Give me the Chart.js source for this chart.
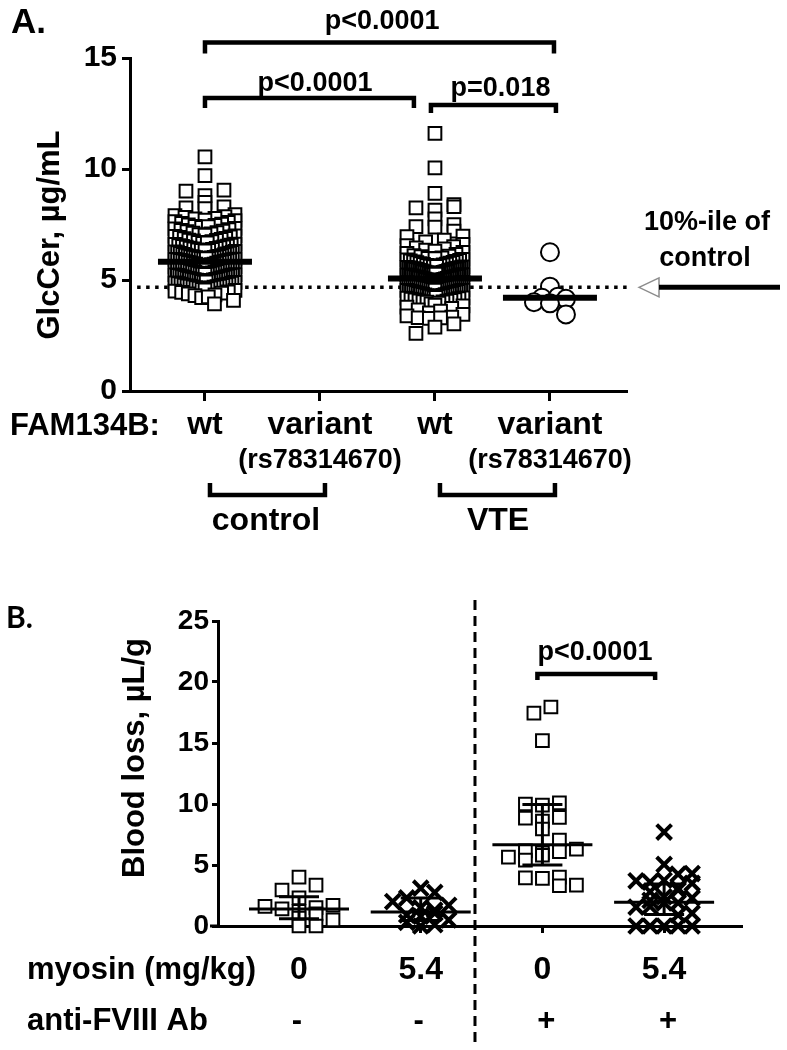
<!DOCTYPE html>
<html>
<head>
<meta charset="utf-8">
<script src="https://cdn.jsdelivr.net/npm/chart.js@4.4.1/dist/chart.umd.min.js"></script>
<style>
html,body{margin:0;padding:0;background:#fff;}
#wrapA{position:absolute;left:0;top:0;width:787px;height:600px;}
#wrapB{position:absolute;left:0;top:600px;width:787px;height:450px;}
canvas{display:block;}
</style>
</head>
<body>
<div id="wrapA"><canvas id="cA" width="787" height="600"></canvas></div>
<div id="wrapB"><canvas id="cB" width="787" height="450"></canvas></div>
<script>
// ================= DATA : panel A =================
const groupsA = ['wt', 'variant', 'wt', 'variant'];
const subLabelA = '(rs78314670)';
const cohortsA = ['control', 'VTE'];
const yTicksA = [0, 5, 10, 15];
const controlWt = [
  10.55, 9.7, 9.05, 9.0, 8.8, 8.5, 8.3, 8.25, 8.22,
  7.95, 7.9, 7.85, 7.82, 7.78, 7.75, 7.7, 7.68, 7.63, 7.6, 7.55, 7.52,
  7.48, 7.46, 7.42, 7.4, 7.37, 7.33, 7.3, 7.27, 7.24, 7.2, 7.18, 7.14, 7.11, 7.08, 7.05, 7.02,
  6.99, 6.97, 6.94, 6.92, 6.88, 6.86, 6.83, 6.8, 6.78, 6.76, 6.73, 6.7, 6.67, 6.65, 6.62, 6.6, 6.57, 6.55, 6.53, 6.51,
  6.49, 6.48, 6.46, 6.44, 6.42, 6.4, 6.38, 6.36, 6.34, 6.33, 6.31, 6.29, 6.27, 6.25, 6.23, 6.21, 6.2, 6.18, 6.16, 6.14,
  6.12, 6.1, 6.09, 6.07, 6.05, 6.04, 6.03, 6.02, 6.01, 6.0,
  5.99, 5.98, 5.97, 5.96, 5.95, 5.94, 5.93, 5.92, 5.91, 5.9, 5.88, 5.87, 5.86,
  5.84, 5.83, 5.82, 5.8, 5.79, 5.77, 5.76, 5.74, 5.72, 5.71, 5.69, 5.67, 5.66, 5.64, 5.62, 5.61, 5.59, 5.58, 5.56, 5.55, 5.54, 5.53, 5.51, 5.5,
  5.49, 5.47, 5.45, 5.44, 5.42, 5.4, 5.39, 5.37, 5.35, 5.34, 5.32, 5.31, 5.29, 5.28, 5.27, 5.26, 5.25, 5.24, 5.23, 5.22, 5.21, 5.2,
  5.19, 5.17, 5.15, 5.14, 5.12, 5.11, 5.09, 5.08, 5.06, 5.05, 5.04, 5.03, 5.02, 5.01, 5.0, 4.98, 4.97, 4.96,
  4.94, 4.92, 4.91, 4.89, 4.87, 4.86, 4.84, 4.82, 4.81, 4.79, 4.77, 4.76, 4.74, 4.73, 4.72, 4.7,
  4.69, 4.68, 4.66, 4.65, 4.63, 4.61, 4.58, 4.56, 4.53, 4.5, 4.47, 4.44, 4.41, 4.37, 4.33, 4.3, 4.24, 4.2, 4.08, 3.92
];
const controlVariant = [];
const vteWt = [
  11.6, 10.05, 8.9, 8.4, 8.3, 8.25, 8.15, 7.75, 7.5, 7.4, 7.38, 7.2,
  6.98, 6.95, 6.8, 6.72, 6.6, 6.55, 6.5, 6.45, 6.4, 6.35, 6.3, 6.25, 6.2, 6.15, 6.1, 6.08, 6.05, 6.0,
  5.98, 5.96, 5.93, 5.91, 5.89, 5.86, 5.84, 5.82, 5.8, 5.78, 5.76, 5.74, 5.72, 5.7, 5.68, 5.66, 5.65, 5.63, 5.61, 5.6,
  5.59, 5.57, 5.56, 5.55, 5.54, 5.53, 5.52, 5.51, 5.505, 5.5,
  5.49, 5.48, 5.47, 5.46, 5.44, 5.43, 5.42, 5.41, 5.39, 5.38, 5.37, 5.36, 5.34, 5.33, 5.32, 5.31, 5.3, 5.29, 5.28, 5.27,
  5.26, 5.25, 5.24, 5.23, 5.22, 5.21, 5.2, 5.19, 5.18, 5.17, 5.16, 5.15, 5.14, 5.13, 5.12, 5.11, 5.1, 5.1, 5.09, 5.09,
  5.07, 5.06, 5.05, 5.04, 5.03, 5.02, 5.01, 5.0, 4.99, 4.97, 4.96, 4.95, 4.93, 4.92, 4.91, 4.89, 4.88, 4.87, 4.85, 4.84,
  4.83, 4.81, 4.8, 4.79, 4.77, 4.76, 4.75, 4.73, 4.72, 4.71, 4.7, 4.69, 4.68, 4.67, 4.66, 4.65, 4.64, 4.63, 4.62, 4.61,
  4.59, 4.58, 4.57, 4.55, 4.54, 4.53, 4.52, 4.5, 4.49, 4.48, 4.46, 4.45, 4.44, 4.43, 4.41, 4.4, 4.39, 4.38, 4.36, 4.35,
  4.34, 4.33, 4.31, 4.3, 4.28, 4.27, 4.26, 4.24, 4.22, 4.2, 4.19, 4.18, 4.16, 4.14, 4.12, 4.1, 4.08, 4.06, 4.05, 4.03, 4.01, 4.0,
  3.96, 3.92, 3.87, 3.83, 3.78, 3.72, 3.66, 3.6, 3.52, 3.45, 3.38, 3.33, 3.3, 3.29, 3.27, 3.02, 2.88, 2.6
];
const vteVariant = [6.25, 4.7, 4.25, 4.2, 4.15, 4.0, 3.95, 3.45];
const mediansA = [5.82, null, 5.07, 4.2];
const percentile10 = 4.67;
const pValuesA = ['p<0.0001', 'p<0.0001', 'p=0.018'];

// ================= DATA : panel B =================
const groupsB = ['0', '5.4', '0', '5.4'];
const antibodyB = ['-', '-', '+', '+'];
const yTicksB = [0, 5, 10, 15, 20, 25];
const b1 = [4.0, 3.35, 2.95, 2.3, 1.7, 1.6, 1.5, 1.4, 1.2, 1.0, 0.65, 0.5, 0.0, 0.0];
const b2 = [3.1, 2.75, 2.3, 2.0, 1.7, 1.5, 1.3, 1.05, 0.9, 0.8, 0.5, 0.3, 0.1, 0.0];
const b3 = [17.95, 17.45, 15.2, 10.1, 10.0, 9.9, 8.9, 8.85, 8.6, 7.95, 7.05, 6.3, 6.15, 6.1, 6.0, 5.8, 5.65, 5.4, 4.0, 3.95, 3.9, 3.35, 3.3];
const b4 = [7.7, 5.05, 4.3, 4.25, 3.75, 3.7, 3.6, 3.5, 3.1, 2.95, 2.8, 2.4, 2.3, 2.1, 1.9, 1.9, 1.6, 1.55, 1.05, 0.9, 0.0, 0.0, 0.0, 0.0, 0.0];
const centersB = [1.4, 1.15, 6.65, 1.95];
const lowsB = [0.6, 0.45, 5.0, 0.95];
const highsB = [2.4, 2.3, 9.95, 3.45];
const pValueB = 'p<0.0001';

// ================= helpers =================
const FONT = "'Liberation Sans', Arial, Helvetica, sans-serif";
const fontObj = (s) => ({ family: FONT, size: s, weight: 'bold' });

function swarm(values, cat, o) {
  const bins = new Map();
  values.forEach(v => {
    const k = Math.floor(v / o.binH + 1e-6);
    if (!bins.has(k)) bins.set(k, []);
    bins.get(k).push(v);
  });
  const placed = [];
  const out = [];
  [...bins.keys()].sort((a, b) => b - a).forEach(k => {
    const arr = bins.get(k).slice().sort((a, b) => a - b);
    const n = arr.length;
    let s = o.step;
    if (n > 1 && (n - 1) * s > 2 * o.half) s = 2 * o.half / (n - 1);
    const base = arr.map((_, i) => (i - (n - 1) / 2) * s);
    base.sort((a, b) => Math.abs(a) - Math.abs(b) || a - b);
    const maxShift = n > 1 ? o.half - (n - 1) * s / 2 : o.half;
    const u = n > 1 ? s : o.step;
    let best = 0, bestC = Infinity;
    [0, u / 2, -u / 2, u, -u, 1.5 * u, -1.5 * u].forEach(sh => {
      if (Math.abs(sh) > maxShift + 0.01) return;
      let c = 0;
      base.forEach((b, i) => {
        const px = b + sh, py = arr[i] * o.ppy;
        placed.forEach(p => { if (Math.abs(p.x - px) < o.size && Math.abs(p.y - py) < o.size) c++; });
      });
      if (c < bestC) { bestC = c; best = sh; }
    });
    const row = arr.map((v, i) => ({ px: base[i] + best, v, d: Math.abs(base[i]) }));
    row.forEach(r => placed.push({ x: r.px, y: r.v * o.ppy }));
    row.sort((a, b) => b.d - a.d);
    row.forEach(r => out.push({ x: cat + r.px / o.ppu, y: r.v }));
  });
  return out;
}

function hSegs(vals, halfPx, ppu) {
  const d = [];
  vals.forEach((m, i) => {
    if (m === null) return;
    d.push({ x: i - halfPx / ppu, y: m }, { x: i + halfPx / ppu, y: m }, { x: i, y: null });
  });
  return d;
}

function errSegs(centers, lows, highs, halfMean, halfCap, ppu) {
  const d = [];
  centers.forEach((m, i) => {
    const hm = halfMean / ppu, hc = halfCap / ppu;
    d.push({ x: i - hm, y: m }, { x: i + hm, y: m }, { x: i, y: null });
    d.push({ x: i, y: lows[i] }, { x: i, y: highs[i] }, { x: i, y: null });
    d.push({ x: i - hc, y: highs[i] }, { x: i + hc, y: highs[i] }, { x: i, y: null });
    d.push({ x: i - hc, y: lows[i] }, { x: i + hc, y: lows[i] }, { x: i, y: null });
  });
  return d;
}

function txt(ctx, s, x, y, size, align, family) {
  ctx.font = 'bold ' + size + 'px ' + (family || FONT);
  ctx.textAlign = align || 'center';
  ctx.textBaseline = 'middle';
  ctx.fillStyle = '#000';
  ctx.fillText(s, x, y);
}
function bracket(ctx, x1, x2, y, h, w) {
  ctx.save();
  ctx.strokeStyle = '#000';
  ctx.lineWidth = w;
  ctx.lineCap = 'butt';
  ctx.lineJoin = 'miter';
  ctx.beginPath();
  ctx.moveTo(x1, y + h); ctx.lineTo(x1, y); ctx.lineTo(x2, y); ctx.lineTo(x2, y + h);
  ctx.stroke();
  ctx.restore();
}

// ================= Panel A =================
const xMinA = -0.652, xMaxA = 3.670;
const ppuA = (627 - 130) / (xMaxA - xMinA);
const ppyA = (391 - 58) / 15;
const sqA = { binH: 0.35, ppy: ppyA, ppu: ppuA, step: 19, half: 30, size: 13 };
const sqA2 = { binH: 0.35, ppy: ppyA, ppu: ppuA, step: 19, half: 28, size: 13 };
const ciA = { binH: 0.3, ppy: ppyA, ppu: ppuA, step: 16, half: 22, size: 17 };

const bracketsA = [
  { from: 0, to: 3.035, y: 15.7, tick: 11, label: pValuesA[0], lx: 1.54, ly: 16.66 },
  { from: 0, to: 1.817, y: 13.2, tick: 10, label: pValuesA[1], lx: 0.957, ly: 13.85 },
  { from: 1.965, to: 3.052, y: 12.88, tick: 8, label: pValuesA[2], lx: 2.57, ly: 13.62 }
];

const annotA = {
  id: 'annotA',
  afterDraw(chart) {
    const { ctx, scales: { x, y } } = chart;
    ctx.save();
    txt(ctx, 'A.', 11, 23, 35, 'left');
    bracketsA.forEach(b => {
      bracket(ctx, x.getPixelForValue(b.from), x.getPixelForValue(b.to), y.getPixelForValue(b.y), b.tick, 4.5);
      txt(ctx, b.label, x.getPixelForValue(b.lx), y.getPixelForValue(b.ly), 27, 'center');
    });
    ctx.save();
    ctx.translate(50, 235);
    ctx.rotate(-Math.PI / 2);
    txt(ctx, 'GlcCer, µg/mL', 0, 0, 31, 'center');
    ctx.restore();
    const py = y.getPixelForValue(percentile10);
    ctx.beginPath();
    ctx.moveTo(639, py); ctx.lineTo(659, py - 9.5); ctx.lineTo(659, py + 9.5); ctx.closePath();
    ctx.fillStyle = '#fff'; ctx.fill();
    ctx.strokeStyle = '#8c8c8c'; ctx.lineWidth = 1.5; ctx.stroke();
    ctx.beginPath(); ctx.moveTo(659, py); ctx.lineTo(780, py);
    ctx.strokeStyle = '#000'; ctx.lineWidth = 5; ctx.stroke();
    txt(ctx, '10%-ile of', 707, 223, 27, 'center');
    txt(ctx, 'control', 705, 259, 27, 'center');
    txt(ctx, 'FAM134B:', 10, 426, 31, 'left');
    txt(ctx, subLabelA, x.getPixelForValue(1), 461, 27, 'center');
    txt(ctx, subLabelA, x.getPixelForValue(3), 461, 27, 'center');
    bracket(ctx, x.getPixelForValue(0) + 5, x.getPixelForValue(1) + 5, 495, -12, 4.5);
    bracket(ctx, x.getPixelForValue(2) + 5, x.getPixelForValue(3) + 5, 495, -12, 4.5);
    txt(ctx, cohortsA[0], 266, 521, 32, 'center');
    txt(ctx, cohortsA[1], 498, 521, 32, 'center');
    ctx.restore();
  }
};

const squareStyle = { pointStyle: 'rect', pointRadius: 9, pointHoverRadius: 9, borderWidth: 2, pointBorderWidth: 2, borderColor: '#000', pointBorderColor: '#000', backgroundColor: '#fff', pointBackgroundColor: '#fff', showLine: false, clip: false, order: 1 };

new Chart(document.getElementById('cA'), {
  type: 'scatter',
  data: {
    datasets: [
      { label: 'median', data: hSegs(mediansA, 47, ppuA), showLine: true, spanGaps: false, borderColor: '#000', borderWidth: 6, pointRadius: 0, pointHoverRadius: 0, clip: false, order: 0 },
      Object.assign({ label: 'control wt', data: swarm(controlWt, 0, sqA) }, squareStyle),
      Object.assign({ label: 'control variant', data: swarm(controlVariant, 1, sqA) }, squareStyle),
      Object.assign({ label: 'VTE wt', data: swarm(vteWt, 2, sqA2) }, squareStyle),
      { label: 'VTE variant', data: swarm(vteVariant, 3, ciA), pointStyle: 'circle', pointRadius: 9, pointHoverRadius: 9, pointBorderWidth: 2, borderWidth: 2, pointBorderColor: '#000', borderColor: '#000', pointBackgroundColor: '#fff', backgroundColor: '#fff', clip: false, order: 1 },
      { label: '10th percentile', data: [{ x: -0.59, y: percentile10 }, { x: xMaxA, y: percentile10 }], showLine: true, borderColor: '#000', borderWidth: 3.5, borderDash: [3.5, 5.5], pointRadius: 0, pointHoverRadius: 0, clip: false, order: 3 }
    ]
  },
  options: {
    responsive: false, animation: false, devicePixelRatio: 1,
    layout: { padding: { left: 0, right: 160, top: 58, bottom: 0 } },
    plugins: { legend: { display: false }, tooltip: { enabled: false } },
    scales: {
      x: {
        type: 'linear', min: xMinA, max: xMaxA,
        afterBuildTicks: s => { s.ticks = groupsA.map((_, i) => ({ value: i })); },
        afterFit: s => { s.height = 209; },
        ticks: { autoSkip: false, maxRotation: 0, minRotation: 0, padding: 5, color: '#000', font: fontObj(32), callback: (v) => groupsA[Math.round(v)] },
        grid: { drawOnChartArea: false, drawTicks: true, tickLength: 10, tickWidth: 3, tickColor: '#000', color: '#000' },
        border: { display: true, color: '#000', width: 3 }
      },
      y: {
        type: 'linear', min: 0, max: 15,
        afterBuildTicks: s => { s.ticks = yTicksA.map(v => ({ value: v })); },
        afterFit: s => { s.width = 130; },
        ticks: { padding: 5, color: '#000', font: fontObj(30), callback: v => String(v) },
        grid: { drawOnChartArea: false, drawTicks: true, tickLength: 8, tickWidth: 3, tickColor: '#000', color: '#000' },
        border: { display: true, color: '#000', width: 3 }
      }
    }
  },
  plugins: [annotA]
});

// ================= Panel B =================
const xMinB = -0.6656, xMaxB = 3.640;
const ppuB = (742 - 218) / (xMaxB - xMinB);
const ppyB = (326 - 21) / 25;
const sqB = { binH: 0.6, ppy: ppyB, ppu: ppuB, step: 17, half: 35, size: 13 };
const crB = { binH: 0.6, ppy: ppyB, ppu: ppuB, step: 14, half: 30, size: 14 };
const separatorB = 1.446;

const annotB = {
  id: 'annotB',
  afterDraw(chart) {
    const { ctx, scales: { x, y } } = chart;
    ctx.save();
    txt(ctx, 'B.', 6, 18, 30, 'left', "Lato, 'Open Sans', sans-serif");
    ctx.save();
    ctx.translate(135, 158);
    ctx.rotate(-Math.PI / 2);
    txt(ctx, 'Blood loss, µL/g', 0, 0, 31, 'center');
    ctx.restore();
    // small extension of the x axis to the left of the y axis
    const y0 = y.getPixelForValue(0);
    ctx.beginPath(); ctx.moveTo(210, y0); ctx.lineTo(chart.chartArea.left, y0);
    ctx.strokeStyle = '#000'; ctx.lineWidth = 3; ctx.stroke();
    const sx = x.getPixelForValue(separatorB);
    ctx.beginPath();
    ctx.setLineDash([10, 6]);
    ctx.moveTo(sx, 0); ctx.lineTo(sx, 447);
    ctx.strokeStyle = '#000'; ctx.lineWidth = 3; ctx.stroke();
    ctx.setLineDash([]);
    bracket(ctx, x.getPixelForValue(2) - 5, x.getPixelForValue(3) - 9, y.getPixelForValue(20.65), 6, 4.5);
    txt(ctx, pValueB, 595, 53, 27, 'center');
    txt(ctx, 'myosin (mg/kg)', 27, 370, 31, 'left');
    txt(ctx, 'anti-FVIII Ab', 27, 421, 31, 'left');
    antibodyB.forEach((s, i) => {
      const off = s === '+' ? 4 : -2;
      txt(ctx, s, x.getPixelForValue(i) + off, 421, 31, 'center');
    });
    ctx.restore();
  }
};

const sqStyleB = { pointStyle: 'rect', pointRadius: 9, pointHoverRadius: 9, pointBorderWidth: 2, borderWidth: 2, pointBorderColor: '#000', borderColor: '#000', pointBackgroundColor: '#fff', backgroundColor: '#fff', clip: false, order: 1 };
const crStyleB = { pointStyle: 'crossRot', pointRadius: 10.5, pointHoverRadius: 10.5, pointBorderWidth: 4, borderWidth: 4, pointBorderColor: '#000', borderColor: '#000', pointBackgroundColor: '#000', backgroundColor: '#000', clip: false, order: 1 };

new Chart(document.getElementById('cB'), {
  type: 'scatter',
  data: {
    datasets: [
      { label: 'mean ± SD', data: errSegs(centersB, lowsB, highsB, 50, 20, ppuB), showLine: true, spanGaps: false, borderColor: '#000', borderWidth: 3, pointRadius: 0, pointHoverRadius: 0, clip: false, order: 0 },
      Object.assign({ label: 'myosin 0, no Ab', data: swarm(b1, 0, sqB) }, sqStyleB),
      Object.assign({ label: 'myosin 5.4, no Ab', data: swarm(b2, 1, crB) }, crStyleB),
      Object.assign({ label: 'myosin 0, anti-FVIII', data: swarm(b3, 2, sqB) }, sqStyleB),
      Object.assign({ label: 'myosin 5.4, anti-FVIII', data: swarm(b4, 3, crB) }, crStyleB)
    ]
  },
  options: {
    responsive: false, animation: false, devicePixelRatio: 1,
    layout: { padding: { left: 0, right: 45, top: 21, bottom: 0 } },
    plugins: { legend: { display: false }, tooltip: { enabled: false } },
    scales: {
      x: {
        type: 'linear', min: xMinB, max: xMaxB,
        afterBuildTicks: s => { s.ticks = groupsB.map((_, i) => ({ value: i })); },
        afterFit: s => { s.height = 124; },
        ticks: { autoSkip: false, maxRotation: 0, minRotation: 0, padding: 18, color: '#000', font: fontObj(32), callback: (v) => groupsB[Math.round(v)] },
        grid: { drawOnChartArea: false, drawTicks: true, tickLength: 7, tickWidth: 3, tickColor: '#000', color: '#000' },
        border: { display: true, color: '#000', width: 3 }
      },
      y: {
        type: 'linear', min: 0, max: 25,
        afterBuildTicks: s => { s.ticks = yTicksB.map(v => ({ value: v })); },
        afterFit: s => { s.width = 218; },
        ticks: { padding: 3, color: '#000', font: fontObj(28), callback: v => String(v) },
        grid: { drawOnChartArea: false, drawTicks: true, tickLength: 6, tickWidth: 3, tickColor: '#000', color: '#000' },
        border: { display: true, color: '#000', width: 3 }
      }
    }
  },
  plugins: [annotB]
});
</script>
</body>
</html>
